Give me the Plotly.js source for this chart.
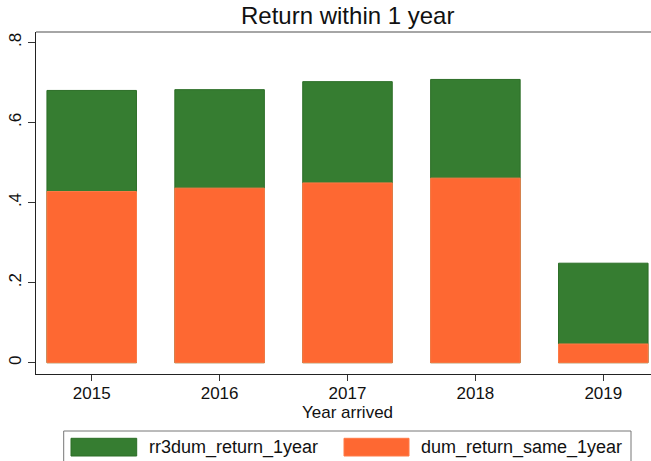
<!DOCTYPE html>
<html>
<head>
<meta charset="utf-8">
<script src="https://cdn.plot.ly/plotly-3.0.1.min.js"></script>
<style>
  html, body { margin: 0; padding: 0; background: #fff; overflow: hidden; }
  #chart { width: 651px; height: 461px; }
</style>
</head>
<body>
<div id="chart"></div>
<script>
// ---- data ----
const years = ['2015', '2016', '2017', '2018', '2019'];
const seriesNames = ['rr3dum_return_1year', 'dum_return_same_1year'];
const rr3dumReturn1year = [0.680, 0.682, 0.702, 0.7075, 0.2485];
const dumReturnSame1year = [0.4275, 0.436, 0.449, 0.461, 0.0467];
const yTickVals = [0, 0.2, 0.4, 0.6, 0.8];
const yTickText = ['0', '.2', '.4', '.6', '.8'];
const chartTitle = 'Return within 1 year';
const xTitle = 'Year arrived';

// ---- styles ----
const GREEN = '#367d31';
const ORANGE = '#fe6832';
const FONT = 'Liberation Sans, Arial, Helvetica, sans-serif';

// pixel helpers for paper coordinates (plot area: x 36..651, y 32..374)
const L = 36, T = 32, B = 87, W = 651, H = 461;
const PW = W - L, PH = H - T - B;
const px = v => (v - L) / PW;
const py = v => (H - B - v) / PH;

const traces = [
  {
    type: 'bar', x: years, y: rr3dumReturn1year, name: seriesNames[0],
    width: 0.7, marker: { color: GREEN, line: { color: '#2c6e27', width: 1 } },
    hoverinfo: 'skip', showlegend: false
  },
  {
    type: 'bar', x: years, y: dumReturnSame1year, name: seriesNames[1],
    width: 0.7, marker: { color: ORANGE, line: { color: '#ff7a47', width: 1 } },
    hoverinfo: 'skip', showlegend: false
  }
];

const layout = {
  width: W, height: H,
  margin: { l: L, r: 0, t: T, b: B, pad: 0 },
  paper_bgcolor: '#ffffff', plot_bgcolor: '#ffffff',
  barmode: 'overlay',
  font: { family: FONT, color: '#111' },
  xaxis: {
    type: 'category', range: [-0.4355, 4.373],
    showgrid: false, zeroline: false,
    showline: true, linecolor: '#222', linewidth: 1.3,
    ticks: 'outside', ticklen: 6, tickwidth: 1, tickcolor: '#333',
    ticklabelstandoff: -3,
    tickfont: { size: 17, family: FONT, color: '#111' },
    fixedrange: true
  },
  yaxis: {
    range: [-0.02825, 0.826],
    tickvals: yTickVals, ticktext: yTickText, tickangle: -90,
    showgrid: false, zeroline: false,
    showline: true, linecolor: '#222', linewidth: 1.3,
    ticks: 'outside', ticklen: 7, tickwidth: 1, tickcolor: '#333',
    tickfont: { size: 17, family: FONT, color: '#111' },
    fixedrange: true
  },
  shapes: [
    // top frame line
    { type: 'line', xref: 'paper', yref: 'paper', x0: 0, x1: 1.1, y0: 1, y1: 1,
      line: { color: '#888', width: 1.5 } },
    // legend box
    { type: 'rect', xref: 'paper', yref: 'paper', x0: px(63.7), x1: px(631), y0: py(431), y1: py(485),
      line: { color: '#777', width: 1 }, fillcolor: 'rgba(0,0,0,0)' },
    // legend swatches
    { type: 'rect', xref: 'paper', yref: 'paper', x0: px(71), x1: px(136.7), y0: py(438.3), y1: py(456),
      line: { color: '#2c6e27', width: 1 }, fillcolor: GREEN },
    { type: 'rect', xref: 'paper', yref: 'paper', x0: px(344), x1: px(409), y0: py(438.3), y1: py(456),
      line: { color: '#ff7a47', width: 1 }, fillcolor: ORANGE }
  ],
  annotations: [
    { text: chartTitle, xref: 'paper', yref: 'paper', x: px(347.5), y: py(15.5),
      xanchor: 'center', yanchor: 'middle', showarrow: false,
      font: { size: 24, family: FONT, color: '#111' } },
    { text: xTitle, xref: 'paper', yref: 'paper', x: px(347.5), y: py(412),
      xanchor: 'center', yanchor: 'middle', showarrow: false,
      font: { size: 17, family: FONT, color: '#111' } },
    { text: seriesNames[0], xref: 'paper', yref: 'paper', x: px(146.7), y: py(447.5),
      xanchor: 'left', yanchor: 'middle', showarrow: false,
      font: { size: 18, family: FONT, color: '#111' } },
    { text: seriesNames[1], xref: 'paper', yref: 'paper', x: px(419), y: py(447.5),
      xanchor: 'left', yanchor: 'middle', showarrow: false,
      font: { size: 18, family: FONT, color: '#111' } }
  ]
};

Plotly.newPlot('chart', traces, layout, { displayModeBar: false, staticPlot: true });
</script>
</body>
</html>
